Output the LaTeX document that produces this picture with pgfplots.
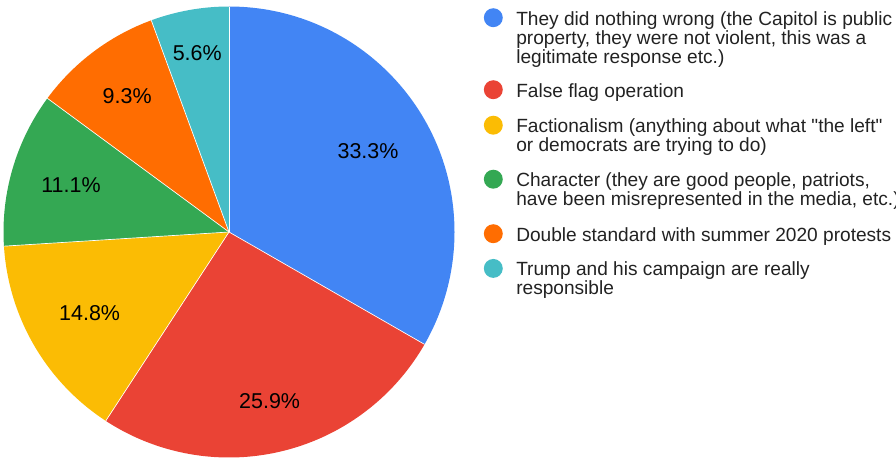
\documentclass[border=0pt]{standalone}
\usepackage{fontspec}
\setmainfont{Liberation Sans}[Ligatures=TeXOff]
\usepackage{pgfplots}
\pgfplotsset{compat=1.18}
\definecolor{gblue}{HTML}{4285F4}
\definecolor{gred}{HTML}{EA4335}
\definecolor{gyellow}{HTML}{FBBC04}
\definecolor{ggreen}{HTML}{34A853}
\definecolor{gorange}{HTML}{FF6D01}
\definecolor{gteal}{HTML}{46BDC6}
\definecolor{ltext}{HTML}{222222}
\tikzset{
  plabel/.style={font=\fontsize{16.1}{18}\selectfont, text=black, inner sep=0pt, anchor=center},
  ltxt/.style={font=\fontsize{14.33}{14.3}\selectfont, text=ltext, inner sep=0pt, anchor=base west},
}
\begin{document}
\begin{tikzpicture}
\begin{axis}[name=pie, at={(0,0)}, anchor=south west, scale only axis,
  width=672pt, height=346.5pt, xmin=0, xmax=896, ymin=0, ymax=462,
  hide axis, clip=false]
% slices: value / colour / label distance from centre (pt)
\gdef\cum{0}
\foreach \v/\col/\lr in {33.3/gblue/120.5, 25.9/gred/130.5, 14.8/gyellow/121, 11.1/ggreen/123.5, 9.3/gorange/127.2, 5.6/gteal/136.2}{
  \pgfmathsetmacro\s{90-3.6*\cum}
  \pgfmathsetmacro\e{90-3.6*(\cum+\v)}
  \pgfmathsetmacro\m{(\s+\e)/2}
  \pgfmathparse{\cum+\v}\xdef\cum{\pgfmathresult}
  \edef\temp{\noexpand\fill[\col] (axis cs:229,230) -- ++(\s:169.125pt) arc[start angle=\s, end angle=\e, radius=169.125pt] -- cycle;}
  \temp
}
\gdef\cum{0}
\foreach \v/\col/\lr in {33.3/gblue/120.5, 25.9/gred/130.5, 14.8/gyellow/121, 11.1/ggreen/123.5, 9.3/gorange/127.2, 5.6/gteal/136.2}{
  \pgfmathsetmacro\s{90-3.6*\cum}
  \pgfmathsetmacro\e{90-3.6*(\cum+\v)}
  \pgfmathsetmacro\m{(\s+\e)/2}
  \pgfmathparse{\cum+\v}\xdef\cum{\pgfmathresult}
  \edef\temp{\noexpand\draw[white, line width=0.5pt] (axis cs:229,230) -- ++(\s:169.125pt);
    \noexpand\path (axis cs:229,230) ++(\m:\lr pt) node[plabel] {\v\noexpand\%};}
  \temp
}
% legend
\fill[gblue]   (axis cs:493.3,444.3) circle[radius=7.1pt];
\fill[gred]    (axis cs:493.3,372.3) circle[radius=7.1pt];
\fill[gyellow] (axis cs:493.3,336.8) circle[radius=7.1pt];
\fill[ggreen]  (axis cs:493.3,282.8) circle[radius=7.1pt];
\fill[gorange] (axis cs:493.3,228.3) circle[radius=7.1pt];
\fill[gteal]   (axis cs:493.3,193.6) circle[radius=7.1pt];
\node[ltxt] at (axis cs:516,437) {They did nothing wrong (the Capitol is public};
\node[ltxt] at (axis cs:516,418) {property, they were not violent, this was a};
\node[ltxt] at (axis cs:516,399) {legitimate response etc.)};
\node[ltxt] at (axis cs:516,365) {False flag operation};
\node[ltxt] at (axis cs:516,329.5) {Factionalism (anything about what "the left"};
\node[ltxt] at (axis cs:516,310.5) {or democrats are trying to do)};
\node[ltxt] at (axis cs:516,275.5) {Character (they are good people, patriots,};
\node[ltxt] at (axis cs:516,256.5) {have been misrepresented in the media, etc.)};
\node[ltxt] at (axis cs:516,221) {Double standard with summer 2020 protests};
\node[ltxt] at (axis cs:516,186.3) {Trump and his campaign are really};
\node[ltxt] at (axis cs:516,167.5) {responsible};
\end{axis}
\pgfresetboundingbox
\useasboundingbox (pie.south west) rectangle (pie.north east);
\end{tikzpicture}
\end{document}
